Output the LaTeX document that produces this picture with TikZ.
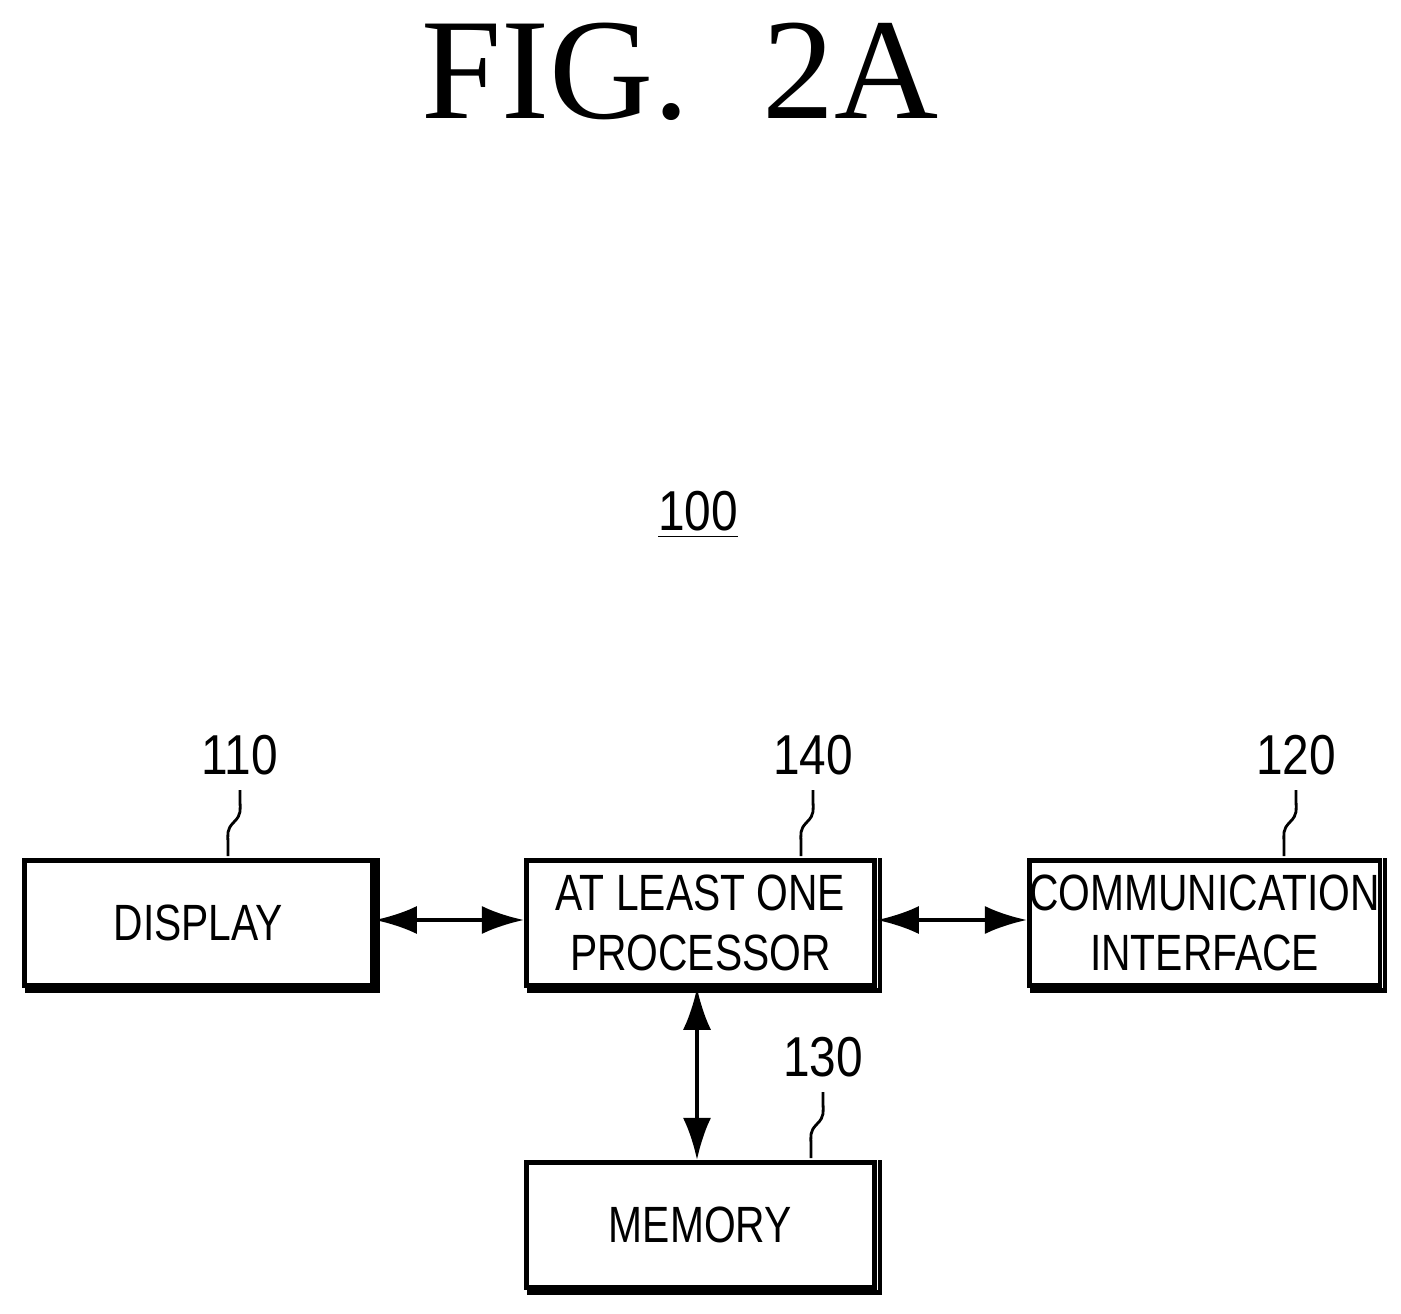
\documentclass[tikz,border=0pt]{standalone}
\usepackage{fontspec}
\setmainfont{Liberation Serif}
\newfontfamily\boxfont{Liberation Sans}
\usetikzlibrary{arrows.meta}
\begin{document}
\begin{tikzpicture}[x=0.01cm,y=-0.01cm,
  blk/.style={draw,line width=1.3pt,minimum width=3.48cm,minimum height=1.25cm,inner sep=0pt,anchor=north west,
    font=\boxfont\fontsize{14.5}{18}\selectfont,align=center},
  lbl/.style={font=\boxfont\fontsize{16}{20}\selectfont},
  arr/.style={{Latex[length=12pt,width=8pt]}-{Latex[length=12pt,width=8pt]},line width=1.1pt},
  sh/.style={line width=1.3pt},
  sq/.style={line width=0.8pt}]
\useasboundingbox (0,0) rectangle (1401,1313);
\node (title) at (680,72) {\fontsize{41}{45}\selectfont FIG.\ \ 2A};
\node (sys) [lbl] at (698,515) {\underline{\scalebox{0.85}[1]{100}}};
\node[blk] (disp) at (22,858) {\scalebox{0.8}[1]{DISPLAY}};
\node[blk] (proc) at (524,858) {\scalebox{0.8}[1]{AT LEAST ONE}\\[-1pt]\scalebox{0.8}[1]{PROCESSOR}};
\node[blk] (comm) at (1027,858) {\scalebox{0.8}[1]{COMMUNICATION}\\[-1pt]\scalebox{0.8}[1]{INTERFACE}};
\node[blk] (mem) at (524,1160) {\scalebox{0.8}[1]{MEMORY}};
\foreach \n in {disp,proc,comm,mem}
  \draw[sh] ([shift={(3,0)}]\n.north east) -- ([shift={(3,3)}]\n.south east) -- ([shift={(3,3)}]\n.south west);
\draw[arr] (disp.east|-0,920) -- (proc.west|-0,920);
\draw[arr] (proc.east|-0,920) -- (comm.west|-0,920);
\draw[arr] (proc.south-|697,0) -- (mem.north-|697,0);
\foreach \n/\t/\x/\y in {l1/110/240/755,l4/140/813/755,l2/120/1296/755,l3/130/823/1057}{
  \node[lbl] (\n) at (\x,\y) {\scalebox{0.85}[1]{\t}};
  \coordinate (\n a) at (\x,\y+35);
  \coordinate (\n b) at (\x-12,\y+101);
  \draw[sq] (\n a) -- ++(0,10) .. controls ++(0,10) and ++(8,-8) .. ++(-6,22) .. controls ++(-8,8) and ++(0,-10) .. ++(-6,22) -- (\n b);
}
\end{tikzpicture}
\end{document}
